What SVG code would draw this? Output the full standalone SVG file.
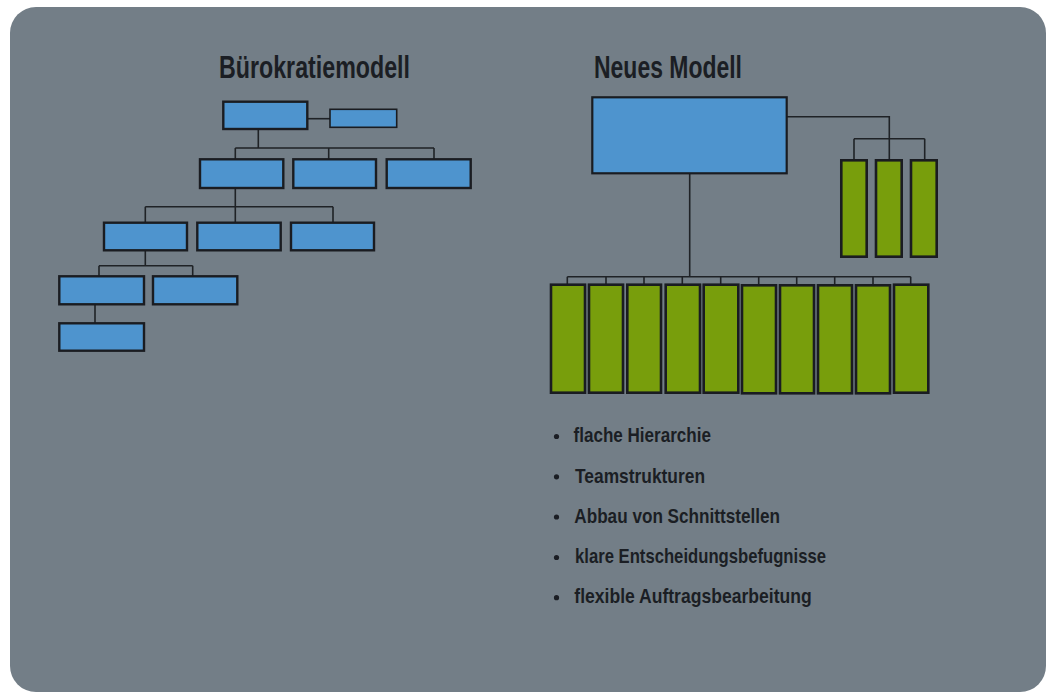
<svg xmlns="http://www.w3.org/2000/svg" width="1051" height="694" viewBox="0 0 1051 694">
<style>
.bg{fill:#737e87}
.b{fill:#4e94ce;stroke:#1a1c21;stroke-width:2.4}
.g{fill:#789e0c;stroke:#1a1c21;stroke-width:2.6}
.c{fill:none;stroke:#1f2226;stroke-width:1.6}
.t{font-family:"Liberation Sans",Arial,sans-serif;font-weight:bold;fill:#1b1e24}
.h{font-size:32px}
.l{font-size:21px}
.dot{fill:#1b1e24}
</style>
<rect width="1051" height="694" fill="#ffffff"/>
<rect class="bg" x="10" y="7" width="1036" height="685" rx="26"/>
<g id="titles">
<text class="t h" x="219" y="78" textLength="191" lengthAdjust="spacingAndGlyphs">Bürokratiemodell</text>
<text class="t h" x="594" y="78" textLength="148" lengthAdjust="spacingAndGlyphs">Neues Modell</text>
</g>
<g id="connectors">
<path class="c" d="M307 118.7H330"/>
<path class="c" d="M258.3 129V148M235.3 148H434M235.3 148V159.3M328.7 148V159.3M434 148V159.3"/>
<path class="c" d="M235.3 188V206.7M145.3 206.7H333M145.3 206.7V222.7M235.3 206.7V222.7M333 206.7V222.7"/>
<path class="c" d="M145.3 250.3V265.7M99 265.7H192.7M99 265.7V276.3M192.7 265.7V276.3"/>
<path class="c" d="M95 304.3V323.3"/>
<path class="c" d="M786.7 116.7H889.3V138.7M854 138.7H924.7M854 138.7V160.3M889.3 138.7V160.3M924.7 138.7V160.3"/>
<path class="c" d="M689.7 173.3V276.7M567.3 276.7H910.7M567.3 276.7V284.7M606 276.7V284.7M644 276.7V284.7M682.3 276.7V284.7M720.7 276.7V284.7M758.7 276.7V284.7M796.7 276.7V284.7M834.7 276.7V284.7M873 276.7V284.7M910.7 276.7V284.7"/>
</g>
<g id="buero-top"><rect class="b" x="223.3" y="101.7" width="84" height="27.3"/></g>
<g id="buero-stab"><rect class="b" x="330" y="109.3" width="66.7" height="18" style="stroke-width:1.6"/></g>
<g id="buero-l2-1"><rect class="b" x="200" y="159.3" width="83.3" height="28.7"/></g>
<g id="buero-l2-2"><rect class="b" x="293.3" y="159.3" width="82.7" height="28.7"/></g>
<g id="buero-l2-3"><rect class="b" x="386.7" y="159.3" width="84" height="28.7"/></g>
<g id="buero-l3-1"><rect class="b" x="104" y="222.7" width="83" height="27.6"/></g>
<g id="buero-l3-2"><rect class="b" x="197.3" y="222.7" width="83.4" height="27.6"/></g>
<g id="buero-l3-3"><rect class="b" x="291" y="222.7" width="83" height="27.6"/></g>
<g id="buero-l4-1"><rect class="b" x="59.3" y="276.3" width="84.7" height="28"/></g>
<g id="buero-l4-2"><rect class="b" x="153" y="276.3" width="84.3" height="28"/></g>
<g id="buero-l5-1"><rect class="b" x="59.3" y="323.3" width="84.7" height="27.4"/></g>
<g id="neu-top"><rect class="b" x="592.3" y="97.3" width="194.4" height="76" style="stroke-width:2.2"/></g>
<g id="neu-stab-1"><rect class="g" x="841.3" y="160.3" width="25.4" height="96.4"/></g>
<g id="neu-stab-2"><rect class="g" x="876" y="160.3" width="25.7" height="96.4"/></g>
<g id="neu-stab-3"><rect class="g" x="911" y="160.3" width="25.7" height="96.4"/></g>
<g id="neu-team-1"><rect class="g" x="551" y="284.7" width="34" height="108"/></g>
<g id="neu-team-2"><rect class="g" x="589" y="284.7" width="34" height="108"/></g>
<g id="neu-team-3"><rect class="g" x="627.3" y="284.7" width="33.7" height="108"/></g>
<g id="neu-team-4"><rect class="g" x="665.7" y="284.7" width="34.3" height="108"/></g>
<g id="neu-team-5"><rect class="g" x="703.7" y="284.7" width="34.6" height="108"/></g>
<g id="neu-team-6"><rect class="g" x="742" y="285.3" width="34" height="108"/></g>
<g id="neu-team-7"><rect class="g" x="780" y="285.3" width="34" height="108"/></g>
<g id="neu-team-8"><rect class="g" x="818" y="285.3" width="34" height="108"/></g>
<g id="neu-team-9"><rect class="g" x="856" y="285.3" width="34" height="108"/></g>
<g id="neu-team-10"><rect class="g" x="894" y="284.7" width="34.3" height="108"/></g>
<g id="bullets">
<circle class="dot" cx="556.5" cy="436.5" r="2.6"/>
<circle class="dot" cx="556.5" cy="476.8" r="2.6"/>
<circle class="dot" cx="556.5" cy="517" r="2.6"/>
<circle class="dot" cx="556.5" cy="557.5" r="2.6"/>
<circle class="dot" cx="556.5" cy="597.7" r="2.6"/>
<text class="t l" x="573.5" y="442.3" textLength="137.5" lengthAdjust="spacingAndGlyphs">flache Hierarchie</text>
<text class="t l" x="575" y="482.7" textLength="130" lengthAdjust="spacingAndGlyphs">Teamstrukturen</text>
<text class="t l" x="574.3" y="522.7" textLength="205.7" lengthAdjust="spacingAndGlyphs">Abbau von Schnittstellen</text>
<text class="t l" x="575" y="563.3" textLength="251" lengthAdjust="spacingAndGlyphs">klare Entscheidungsbefugnisse</text>
<text class="t l" x="574.3" y="603.3" textLength="237.4" lengthAdjust="spacingAndGlyphs">flexible Auftragsbearbeitung</text>
</g>
</svg>
